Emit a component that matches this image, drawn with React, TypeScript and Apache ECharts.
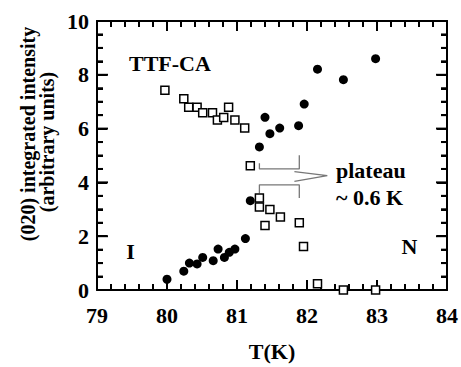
import React, { useEffect, useRef } from "react";
import * as echarts from "echarts";

const filledT = [80.0, 80.24, 80.32, 80.43, 80.51, 80.66, 80.73, 80.82, 80.89, 80.97, 81.12, 81.19, 81.32, 81.4, 81.47, 81.61, 81.88, 81.96, 82.15, 82.52, 82.98];
const filledI = [0.4, 0.7, 1.0, 0.97, 1.21, 1.09, 1.52, 1.21, 1.4, 1.52, 1.91, 3.32, 5.32, 6.42, 5.81, 6.02, 6.11, 6.91, 8.21, 7.82, 8.6];
const openT = [79.97, 80.24, 80.31, 80.43, 80.51, 80.65, 80.72, 80.81, 80.88, 80.97, 81.11, 81.19, 81.32, 81.32, 81.4, 81.47, 81.62, 81.89, 81.95, 82.15, 82.52, 82.98];
const openI = [7.43, 7.11, 6.79, 6.79, 6.59, 6.59, 6.32, 6.41, 6.79, 6.32, 6.02, 4.62, 3.42, 3.09, 2.4, 2.99, 2.71, 2.5, 1.62, 0.23, 0.0, 0.0];

const xTicks = { min: 79, max: 84, interval: 1, minorSplit: 5 };
const yTicks = { min: 0, max: 10, interval: 2, minorSplit: 4 };

// annotation bracket paths (data coordinates)
const bracketUpper = [[81.32, 4.71], [81.32, 4.5], [81.89, 4.5], [81.89, 5.01]];
const bracketLower = [[81.32, 3.6], [81.32, 3.91], [81.89, 3.91], [81.89, 3.42]];
const arrowLines = [[81.82, 4.4], [82.29, 4.25], [81.82, 4.04]];

const FONT = "Liberation Serif";

function makeAxis(position: string, range: { min: number; max: number; interval: number; minorSplit: number }, showLabel: boolean) {
  return {
    type: "value",
    show: true,
    position,
    min: range.min,
    max: range.max,
    interval: range.interval,
    axisLine: { show: true, onZero: false, lineStyle: { color: "#000", width: 2 } },
    axisTick: { show: true, inside: true, length: 10, lineStyle: { color: "#000", width: 2 } },
    minorTick: { show: true, splitNumber: range.minorSplit, length: 6, lineStyle: { color: "#000", width: 2 } },
    splitLine: { show: false },
    axisLabel: showLabel
      ? { show: true, color: "#000", fontFamily: FONT, fontWeight: "bold", fontSize: 22, margin: position === "bottom" ? 14 : 8 }
      : { show: false },
  };
}

function tickValues(r: { min: number; max: number; interval: number; minorSplit: number }) {
  const major: number[] = [];
  const minor: number[] = [];
  const n = Math.round((r.max - r.min) / r.interval);
  for (let i = 0; i <= n; i++) {
    const v = r.min + i * r.interval;
    major.push(v);
    if (i < n) for (let k = 1; k < r.minorSplit; k++) minor.push(v + (k * r.interval) / r.minorSplit);
  }
  return { major, minor };
}

export default function App() {
  const ref = useRef<HTMLDivElement>(null);
  useEffect(() => {
    if (!ref.current) return;
    const chart = echarts.init(ref.current, null, { renderer: "svg" });
    const lineSeries = (data: number[][], color = "#777", width = 1.3) => ({
      type: "line",
      data,
      symbol: "none",
      silent: true,
      clip: false,
      lineStyle: { color, width },
    });
    const txt = (text: string, x: number, y: number, size: number, align: string, rot = 0) => ({
      type: "text",
      x,
      y,
      rotation: rot,
      z: 100,
      style: { text, fontFamily: FONT, fontWeight: "bold", fontSize: size, fill: "#000", align, verticalAlign: "middle" },
    });
    const texts = [
      txt("(020) integrated intensity", 28, 134, 20, "center", Math.PI / 2),
      txt("(arbitrary units)", 47, 142, 20, "center", Math.PI / 2),
      txt("TTF-CA", 129, 63.5, 22, "left"),
      txt("plateau", 336, 170, 22, "left"),
      txt("~ 0.6 K", 336, 197, 22, "left"),
      txt("I", 130.5, 251, 22, "center"),
      txt("N", 409.5, 246.5, 22, "center"),
    ];
    const baseSeries: any[] = [
      lineSeries(bracketUpper),
      lineSeries(bracketLower),
      lineSeries(arrowLines),
      {
        type: "scatter",
        data: openT.map((t, i) => [t, openI[i]]),
        symbol: "rect",
        symbolSize: 8,
        clip: false,
        z: 5,
        itemStyle: { color: "#fff", borderColor: "#000", borderWidth: 1.5, opacity: 1 },
      },
      {
        type: "scatter",
        data: filledT.map((t, i) => [t, filledI[i]]),
        symbol: "circle",
        symbolSize: 9,
        clip: false,
        z: 5,
        itemStyle: { color: "#000", opacity: 1 },
      },
    ];
    chart.setOption({
      animation: false,
      grid: { left: 97, right: 12, top: 21, bottom: 74 },
      xAxis: [
        {
          ...makeAxis("bottom", xTicks, true),
          name: "T(K)",
          nameLocation: "middle",
          nameGap: 50,
          nameTextStyle: { color: "#000", fontFamily: FONT, fontWeight: "bold", fontSize: 22 },
        },
        makeAxis("top", xTicks, false),
      ],
      yAxis: [makeAxis("left", yTicks, true), makeAxis("right", yTicks, false)],
      series: baseSeries,
      graphic: texts,
    });

    // frame and inward ticks as line series in data coordinates
    const p0 = chart.convertToPixel({ gridIndex: 0 }, [xTicks.min, yTicks.min]) as number[];
    const p1 = chart.convertToPixel({ gridIndex: 0 }, [xTicks.max, yTicks.max]) as number[];
    const dataPerPxX = (xTicks.max - xTicks.min) / (p1[0] - p0[0]);
    const dataPerPxY = (yTicks.max - yTicks.min) / (p0[1] - p1[1]);
    const frame: any[] = [
      lineSeries(
        [
          [xTicks.min, yTicks.min],
          [xTicks.max, yTicks.min],
          [xTicks.max, yTicks.max],
          [xTicks.min, yTicks.max],
          [xTicks.min, yTicks.min],
        ],
        "#000",
        2
      ),
    ];
    const xt = tickValues(xTicks);
    const yt = tickValues(yTicks);
    const addX = (v: number, len: number) => {
      const d = len * dataPerPxY;
      frame.push(lineSeries([[v, yTicks.min], [v, yTicks.min + d]], "#000", 2));
      frame.push(lineSeries([[v, yTicks.max], [v, yTicks.max - d]], "#000", 2));
    };
    const addY = (v: number, len: number) => {
      const d = len * dataPerPxX;
      frame.push(lineSeries([[xTicks.min, v], [xTicks.min + d, v]], "#000", 2));
      frame.push(lineSeries([[xTicks.max, v], [xTicks.max - d, v]], "#000", 2));
    };
    xt.major.forEach((v) => addX(v, 10));
    xt.minor.forEach((v) => addX(v, 6));
    yt.major.forEach((v) => addY(v, 11));
    yt.minor.forEach((v) => addY(v, 6));
    chart.setOption({ series: [...baseSeries, ...frame] });

    return () => chart.dispose();
  }, []);
  return <div ref={ref} style={{ width: 461, height: 367, position: "absolute", left: 0, top: 0, background: "#fff" }} />;
}
